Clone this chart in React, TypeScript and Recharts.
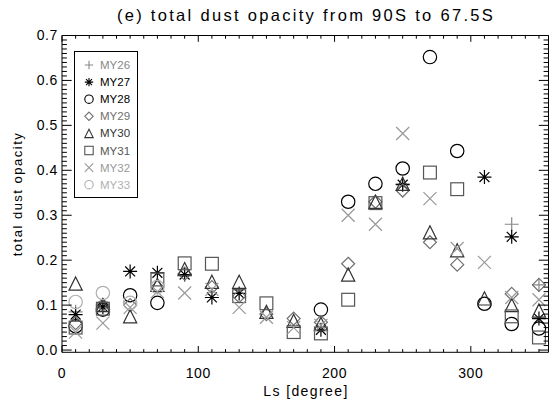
import React from 'react';
import { ScatterChart, Scatter, XAxis, YAxis } from 'recharts';

// Solar longitude bins (degrees)
const lsBins = [10, 30, 50, 70, 90, 110, 130, 150, 170, 190, 210, 230, 250, 270, 290, 310, 330, 350];

// Total dust opacity per Mars year (null = no value)
const my26 = [0.085, 0.1, null, null, null, null, null, null, null, null, null, null, 0.37, null, null, null, 0.28, 0.145];
const my27 = [0.079, 0.096, 0.175, 0.172, 0.168, 0.117, 0.126, null, null, 0.045, null, null, 0.368, null, null, 0.385, 0.252, 0.07];
const my28 = [0.053, 0.09, 0.122, 0.105, null, null, null, null, null, 0.09, 0.33, 0.37, 0.404, 0.652, 0.443, 0.103, 0.058, 0.048];
const my29 = [0.06, 0.1, 0.1, 0.14, 0.17, 0.14, 0.12, 0.08, 0.07, 0.062, 0.192, 0.33, 0.355, 0.24, 0.19, null, 0.125, 0.145];
const my30 = [0.148, 0.1, 0.075, 0.145, 0.18, 0.152, 0.152, 0.085, 0.065, 0.058, 0.168, 0.33, 0.37, 0.262, 0.222, 0.115, 0.1, 0.088];
const my31 = [0.05, 0.092, null, 0.157, 0.193, 0.192, 0.12, 0.104, 0.04, 0.037, 0.112, 0.327, null, 0.395, 0.358, null, 0.075, 0.028];
const my32 = [0.04, 0.06, 0.095, 0.13, 0.127, 0.135, 0.095, 0.073, 0.05, 0.055, 0.3, 0.28, 0.482, 0.337, 0.226, 0.195, 0.117, 0.112];
const my33 = [0.107, 0.127, 0.105, 0.14, null, null, null, null, null, null, null, null, null, null, null, null, null, null];

const seriesNames = ['MY26', 'MY27', 'MY28', 'MY29', 'MY30', 'MY31', 'MY32', 'MY33'];
const seriesValues = [my26, my27, my28, my29, my30, my31, my32, my33];
const seriesSymbols = ['plus', 'asterisk', 'circle', 'diamond', 'triangle', 'square', 'x', 'circle'];
const seriesColors = ['#888888', '#000000', '#000000', '#707070', '#333333', '#555555', '#999999', '#b0b0b0'];

const xTicks = Array.from({ length: 36 }, (_, i) => i * 10);
const yTicks = Array.from({ length: 71 }, (_, i) => i / 100);

const FONT = '"Liberation Sans", Arial, Helvetica, sans-serif';

function drawSymbol(kind: string, cx: number, cy: number, s: number, color: string, sw: number) {
  const common = { stroke: color, strokeWidth: sw, fill: 'none' };
  switch (kind) {
    case 'plus':
      return <path {...common} d={`M${cx - s},${cy}H${cx + s}M${cx},${cy - s}V${cy + s}`} />;
    case 'asterisk': {
      const d = s * 0.7071;
      return (
        <path
          {...common}
          d={`M${cx - s},${cy}H${cx + s}M${cx},${cy - s}V${cy + s}M${cx - d},${cy - d}L${cx + d},${cy + d}M${cx - d},${cy + d}L${cx + d},${cy - d}`}
        />
      );
    }
    case 'circle':
      return <circle {...common} cx={cx} cy={cy} r={s} />;
    case 'diamond':
      return <path {...common} d={`M${cx},${cy - s}L${cx + s},${cy}L${cx},${cy + s}L${cx - s},${cy}Z`} />;
    case 'triangle':
      return <path {...common} d={`M${cx},${cy - s}L${cx + s},${cy + s}L${cx - s},${cy + s}Z`} />;
    case 'square':
      return <rect {...common} x={cx - s} y={cy - s} width={2 * s} height={2 * s} />;
    case 'x':
      return <path {...common} d={`M${cx - s},${cy - s}L${cx + s},${cy + s}M${cx - s},${cy + s}L${cx + s},${cy - s}`} />;
    default:
      return null;
  }
}

const symbolSize: Record<string, number> = {
  plus: 7,
  asterisk: 7,
  circle: 6.7,
  diamond: 6.5,
  triangle: 6.6,
  square: 6.4,
  x: 6.5,
};

const BottomTick = (props: any) => {
  const { x, y, payload } = props;
  const v = payload.value;
  const major = v % 100 === 0;
  return (
    <g>
      <line x1={x} x2={x} y1={y} y2={y - (major ? 6.3 : 3.2)} stroke="#000" strokeWidth={1} />
      {major && (
        <text x={x} y={y + 26} textAnchor="middle" fontSize={14} fontFamily={FONT} letterSpacing={0.6} fill="#000">
          {v}
        </text>
      )}
    </g>
  );
};

const TopTick = (props: any) => {
  const { x, y, payload } = props;
  const v = payload.value;
  const major = v % 100 === 0;
  return <line x1={x} x2={x} y1={y} y2={y + (major ? 6.3 : 3.2)} stroke="#000" strokeWidth={1} />;
};

const LeftTick = (props: any) => {
  const { x, y, payload } = props;
  const v = payload.value;
  const major = Math.round(v * 100) % 10 === 0;
  return (
    <g>
      <line x1={x} x2={x + (major ? 9.7 : 4.9)} y1={y} y2={y} stroke="#000" strokeWidth={1} />
      {major && (
        <text x={x - 4} y={y + 4.5} textAnchor="end" fontSize={14} fontFamily={FONT} letterSpacing={0.6} fill="#000">
          {v.toFixed(1)}
        </text>
      )}
    </g>
  );
};

const RightTick = (props: any) => {
  const { x, y, payload } = props;
  const v = payload.value;
  const major = Math.round(v * 100) % 10 === 0;
  return <line x1={x} x2={x - (major ? 9.7 : 4.9)} y1={y} y2={y} stroke="#000" strokeWidth={1} />;
};

const LegendBox = () => (
  <svg width={66} height={150} style={{ display: 'block' }}>
    <rect x={0.5} y={0.5} width={63} height={146} fill="#fff" stroke="#000" strokeWidth={1} />
    {seriesNames.map((name, i) => {
      const cy = 14 + i * 17.1;
      return (
        <g key={name}>
          {drawSymbol(seriesSymbols[i], 15, cy, 4.2, seriesColors[i], 1.1)}
          <text x={26} y={cy + 4} fontSize={11.5} fontFamily={FONT} fill={seriesColors[i]}>
            {name}
          </text>
        </g>
      );
    })}
  </svg>
);

export default function App() {
  const datasets = seriesValues.map((vals) =>
    lsBins.map((ls, i) => ({ ls, v: vals[i] })).filter((d) => d.v !== null && d.v !== undefined)
  );
  // plot area: left 62, right 548.5, top 35.5, bottom 352.3
  return (
    <div style={{ position: 'absolute', left: 0, top: 0, width: 551, height: 401, background: '#fff' }}>
      <ScatterChart width={551} height={401} margin={{ top: 15.5, right: 0.5, bottom: 18.7, left: 22 }}>
        <XAxis
          xAxisId="b"
          type="number"
          dataKey="ls"
          domain={[0, 357]}
          ticks={xTicks}
          interval={0}
          allowDataOverflow
          height={30}
          tickSize={0}
          tickMargin={0}
          tick={<BottomTick />}
          axisLine={{ stroke: '#000' }}
          tickLine={false}
        />
        <XAxis
          xAxisId="t"
          orientation="top"
          type="number"
          dataKey="ls"
          domain={[0, 357]}
          ticks={xTicks}
          interval={0}
          allowDataOverflow
          height={20}
          tickSize={0}
          tickMargin={0}
          tick={<TopTick />}
          axisLine={{ stroke: '#000' }}
          tickLine={false}
        />
        <YAxis
          yAxisId="l"
          type="number"
          dataKey="v"
          domain={[-0.005, 0.7]}
          ticks={yTicks}
          interval={0}
          allowDataOverflow
          width={40}
          tickSize={0}
          tickMargin={0}
          tick={<LeftTick />}
          axisLine={{ stroke: '#000' }}
          tickLine={false}
        />
        <YAxis
          yAxisId="r"
          orientation="right"
          type="number"
          dataKey="v"
          domain={[-0.005, 0.7]}
          ticks={yTicks}
          interval={0}
          allowDataOverflow
          width={2}
          tickSize={0}
          tickMargin={0}
          tick={<RightTick />}
          axisLine={{ stroke: '#000' }}
          tickLine={false}
        />
        <Scatter xAxisId="t" yAxisId="r" data={[]} isAnimationActive={false} legendType="none" />
        {datasets.map((data, i) => (
          <Scatter
            key={seriesNames[i]}
            name={seriesNames[i]}
            xAxisId="b"
            yAxisId="l"
            data={data}
            dataKey="v"
            isAnimationActive={false}
            shape={(p: any) => drawSymbol(seriesSymbols[i], p.cx, p.cy, symbolSize[seriesSymbols[i]], seriesColors[i], 1.2)}
          />
        ))}
      </ScatterChart>
      <div style={{ position: 'absolute', left: 74, top: 51 }}>
        <LegendBox />
      </div>
      <div
        style={{
          position: 'absolute',
          left: 62,
          width: 488,
          top: 5,
          textAlign: 'center',
          fontFamily: FONT,
          fontSize: 16.5,
          letterSpacing: 2.3,
          lineHeight: '20px',
          color: '#000',
          whiteSpace: 'nowrap',
        }}
      >
        (e) total dust opacity from 90S to 67.5S
      </div>
      <div
        style={{
          position: 'absolute',
          left: 62,
          width: 488,
          top: 382,
          textAlign: 'center',
          fontFamily: FONT,
          fontSize: 14,
          letterSpacing: 1.4,
          lineHeight: '18px',
          color: '#000',
          whiteSpace: 'nowrap',
        }}
      >
        Ls [degree]
      </div>
      <div
        style={{
          position: 'absolute',
          left: 18 - 80,
          top: 194 - 9,
          width: 160,
          height: 18,
          lineHeight: '18px',
          textAlign: 'center',
          fontFamily: FONT,
          fontSize: 13,
          letterSpacing: 1.5,
          color: '#000',
          whiteSpace: 'nowrap',
          transform: 'rotate(-90deg)',
        }}
      >
        total dust opacity
      </div>
    </div>
  );
}
